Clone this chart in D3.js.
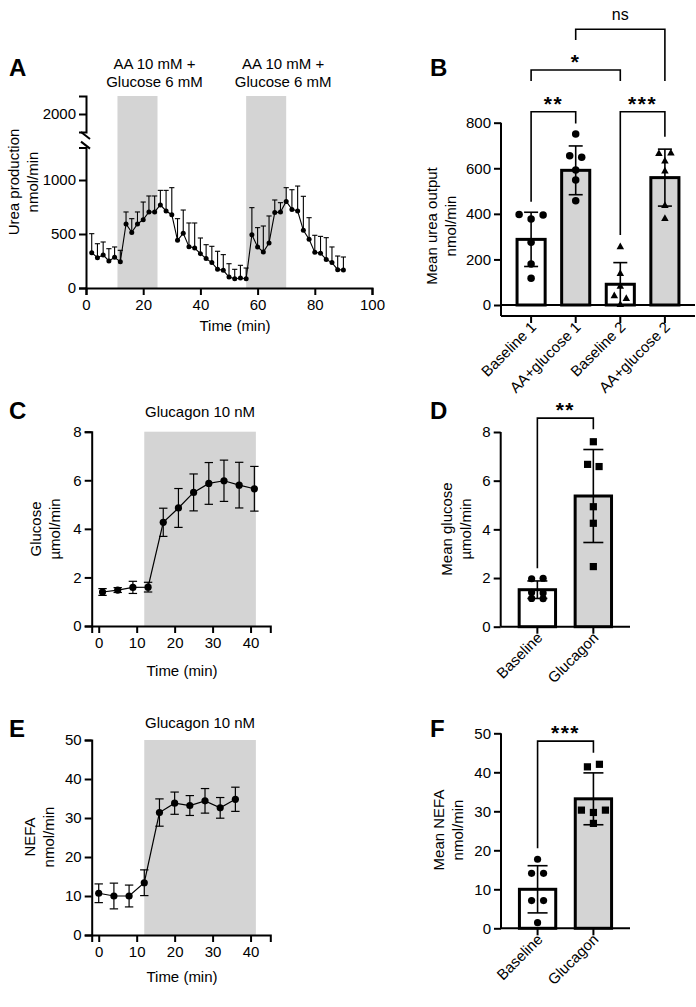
<!DOCTYPE html>
<html><head><meta charset="utf-8">
<script src="https://cdn.jsdelivr.net/npm/d3@7"></script>
<style>
body{margin:0;background:#fff}
text{font-family:"Liberation Sans",Arial,sans-serif;fill:#000}
</style>
</head><body>
<svg id="c" width="696" height="1007"></svg>
<script>
// ---------------- DATA ----------------
// Panel A: urea production time course (mean, upper SD)
const timeA = [2,4,6,8,10,12,14,16,18,20,22,24,26,28,30,32,34,36,38,40,42,44,46,48,50,52,54,56,58,60,62,64,66,68,70,72,74,76,78,80,82,84,86,88,90];
const ureaMean = [327,281,306,250,284,244,593,515,593,633,704,704,769,713,679,441,506,383,370,318,272,235,173,164,102,86,93,86,494,380,333,417,698,704,802,728,713,534,451,330,321,265,235,170,167];
const ureaUpper = [503,410,426,364,380,349,704,642,704,796,852,852,904,904,929,642,722,602,602,463,401,386,340,309,225,173,210,185,744,559,574,667,815,790,929,910,944,849,651,488,478,466,380,296,287];
const ureaWindows = [[11,25],[56,70]];
const ureaWindowLabel = ["AA 10 mM +","Glucose 6 mM"];
const ureaTicksLow = [0,500,1000];
const ureaTicksHigh = [2000];
const timeTicksA = [0,20,40,60,80,100];

// Panel B: mean urea output per period
const catsB = ["Baseline 1","AA+glucose 1","Baseline 2","AA+glucose 2"];
const meanB = [288,591,91,559];
const sdB = [119,107,95,125];
const ptsBaseline1 = [397,377,395,275,180,117];
const ptsAAglucose1 = [750,655,648,592,548,458];
const ptsBaseline2 = [256,139,83,41,29,3];
const ptsAAglucose2 = [666,668,633,589,437,380];
const shapesB = ["circle","circle","triangle","triangle"];
const ticksB = [0,200,400,600,800];
// brackets: [from, to, level, leftLegEnd, rightLegEnd, label]
const bracketsB = [
  [0,1,848,453,797,"**"],
  [2,3,848,307,738,"***"],
  [0,2,1031,983,983,"*"],
  [1,3,1210,1163,983,"ns"]
];

// Panel C: glucose time course
const timeC = [1,5,9,13,17,21,25,29,33,37,41];
const glucoseMean = [1.40,1.48,1.59,1.60,4.27,4.86,5.50,5.87,5.98,5.80,5.65];
const glucoseSD = [0.14,0.10,0.25,0.20,0.58,0.80,0.76,0.86,0.85,0.94,0.92];
const glucagonWindow = [12,41.4];
const ticksC = [0,2,4,6,8];
const timeTicksCE = [0,10,20,30,40];

// Panel D: mean glucose
const catsD = ["Baseline","Glucagon"];
const meanD = [1.52,5.37];
const sdD = [0.36,1.91];
const ptsDBaseline = [1.97,1.99,1.41,1.38,1.16,1.15];
const ptsDGlucagon = [7.60,6.67,6.58,4.93,4.25,2.47];
const bracketD = [0,1,8.57,2.40,8.11,"**"];

// Panel E: NEFA time course
const timeE = [0,4,8,12,16,20,24,28,32,36];
const nefaMean = [10.7,10.0,10.0,13.4,31.4,33.8,33.2,34.4,32.6,34.8];
const nefaSD = [2.4,3.3,2.8,3.3,3.5,2.85,2.55,3.15,2.65,3.1];
const ticksE = [0,10,20,30,40,50];

// Panel F: mean NEFA
const catsF = ["Baseline","Glucagon"];
const meanF = [10.0,33.2];
const sdF = [6.05,6.65];
const ptsFBaseline = [17.7,14.1,14.1,7.1,7.1,1.45];
const ptsFGlucagon = [41.4,42.05,30.3,29.7,30.3,26.9];
const bracketF = [0,1,48.0,20.5,45.0,"***"];

// ---------------- DRAW ----------------
const svg = d3.select("#c");
svg.append("rect").attr("width",696).attr("height",1007).attr("fill","#fff");
const GRAY = "#d4d4d4";
const FS = 15;
const fmt = d3.format("d");

function letter(t,x,y){
  svg.append("text").attr("x",x).attr("y",y).attr("font-size",24).attr("font-weight","bold").text(t);
}
function styleAxis(g){
  g.selectAll("path.domain").attr("stroke","#000").attr("stroke-width",2);
  g.selectAll(".tick line").attr("stroke","#000").attr("stroke-width",2);
  g.selectAll(".tick text").attr("font-size",FS).attr("font-family",'"Liberation Sans",Arial,sans-serif').attr("fill","#000");
}
function yTitle(lines,x,y){
  const t = svg.append("text").attr("transform",`translate(${x},${y}) rotate(-90)`).attr("text-anchor","middle").attr("font-size",FS);
  lines.forEach((l,i)=>t.append("tspan").attr("x",0).attr("dy",i===0?0:"1.25em").text(l));
}
function marker(g,shape,x,y,s){
  if(shape==="circle"){
    g.append("circle").attr("cx",x).attr("cy",y).attr("r",s/2).attr("fill","#000");
  } else if(shape==="square"){
    g.append("rect").attr("x",x-s/2).attr("y",y-s/2).attr("width",s).attr("height",s).attr("fill","#000");
  } else {
    const h = s*0.9;
    g.append("path").attr("d",`M${x},${y-h*0.6}L${x+s/2},${y+h*0.4}L${x-s/2},${y+h*0.4}Z`).attr("fill","#000");
  }
}
// lay out column scatter: points in the same horizontal row are spread symmetrically
function scatterOffsets(vals,yScale,spacing,thr){
  const idx = vals.map((v,i)=>i).sort((a,b)=>yScale(vals[a])-yScale(vals[b]));
  const rows = []; let cur = null;
  idx.forEach(i=>{
    const py = yScale(vals[i]);
    if(!cur || py-cur.start>thr){ cur={start:py,items:[]}; rows.push(cur); }
    cur.items.push(i);
  });
  const off = new Array(vals.length).fill(0);
  rows.forEach(r=>{
    r.items.sort((a,b)=>a-b);
    const n=r.items.length;
    r.items.forEach((i,k)=>off[i]=(k-(n-1)/2)*spacing);
  });
  return off;
}

// ===== Panel A =====
(function(){
  const x = d3.scaleLinear([0,100],[86,372]);
  const y = d3.scaleLinear([0,1300],[288,147.6]);
  const yHi = d3.scaleLinear([1800,2200],[132,96]);
  const g = svg.append("g");
  ureaWindows.forEach(w=>{
    g.append("rect").attr("x",x(w[0])).attr("width",x(w[1])-x(w[0]))
      .attr("y",yHi(2200)).attr("height",y(0)-yHi(2200)).attr("fill",GRAY);
    const cx = (x(w[0])+x(w[1]))/2+17;
    ureaWindowLabel.forEach((l,i)=>g.append("text").attr("x",cx).attr("y",69+i*17.5).attr("text-anchor","middle").attr("font-size",FS).text(l));
  });
  const ax = g.append("g").attr("transform","translate(0,288)")
    .call(d3.axisBottom(x).tickValues(timeTicksA).tickFormat(fmt).tickSizeOuter(0).tickSize(7).tickPadding(4));
  styleAxis(ax);
  const ay = g.append("g").attr("transform","translate(86,0)")
    .call(d3.axisLeft(y).tickValues(ureaTicksLow).tickFormat(fmt).tickSizeOuter(0).tickSize(7).tickPadding(3));
  styleAxis(ay);
  const ay2 = g.append("g").attr("transform","translate(86,0)")
    .call(d3.axisLeft(yHi).tickValues(ureaTicksHigh).tickFormat(fmt).tickSizeOuter(0).tickSize(7).tickPadding(3));
  styleAxis(ay2);
  // break marks
  [yHi(1800)+3,y(1300)-3].forEach(by=>{
    g.append("line").attr("x1",81).attr("y1",by-3).attr("x2",90).attr("y2",by+4).attr("stroke","#000").attr("stroke-width",2);
  });
  // error bars (upper)
  timeA.forEach((t,i)=>{
    g.append("line").attr("x1",x(t)).attr("x2",x(t)).attr("y1",y(ureaMean[i])).attr("y2",y(ureaUpper[i])).attr("stroke","#000").attr("stroke-width",1.1);
    g.append("line").attr("x1",x(t)-2.6).attr("x2",x(t)+2.6).attr("y1",y(ureaUpper[i])).attr("y2",y(ureaUpper[i])).attr("stroke","#000").attr("stroke-width",1.1);
  });
  g.append("path").datum(timeA.map((t,i)=>[t,ureaMean[i]]))
    .attr("d",d3.line().x(d=>x(d[0])).y(d=>y(d[1]))).attr("fill","none").attr("stroke","#000").attr("stroke-width",1.1);
  timeA.forEach((t,i)=>g.append("circle").attr("cx",x(t)).attr("cy",y(ureaMean[i])).attr("r",2.5).attr("fill","#000"));
  g.append("text").attr("x",235).attr("y",331).attr("text-anchor","middle").attr("font-size",FS).text("Time  (min)");
  yTitle(["Urea production","nmol/min"],19,182);
  letter("A",9,76);
})();

// ===== bar panels =====
function barPanel(o){
  const g = svg.append("g");
  const x = d3.scaleBand(o.cats,o.xr).paddingInner(o.pi).paddingOuter(o.po);
  const y = d3.scaleLinear(o.dom,o.yr);
  const ay = g.append("g").attr("transform",`translate(${o.xr[0]},0)`)
    .call(d3.axisLeft(y).tickValues(o.ticks).tickFormat(fmt).tickSizeOuter(0).tickSize(7).tickPadding(3));
  styleAxis(ay);
  ay.select("path.domain").remove();
  g.append("line").attr("x1",o.xr[0]).attr("x2",o.xr[0]).attr("y1",y(o.dom[1])).attr("y2",o.xAxisY).attr("stroke","#000").attr("stroke-width",2);
  if(o.xAxisY!==y(0)){
    g.append("line").attr("x1",o.xr[0]).attr("x2",o.xr[1]).attr("y1",y(0)).attr("y2",y(0)).attr("stroke","#000").attr("stroke-width",2);
  }
  const ax = g.append("g").attr("transform",`translate(0,${o.xAxisY})`)
    .call(d3.axisBottom(x).tickSizeOuter(0).tickSize(7).tickFormat(""));
  styleAxis(ax);
  ax.select("path.domain").attr("d",`M${o.xr[0]},0H${o.xr[1]}`);
  o.cats.forEach(c=>{
    g.append("text").attr("transform",`translate(${x(c)+x.bandwidth()/2+6},${o.xAxisY+12}) rotate(-45)`)
      .attr("text-anchor","end").attr("font-size",FS).text(c);
  });
  o.cats.forEach((c,i)=>{
    g.append("rect").attr("x",x(c)).attr("width",x.bandwidth()).attr("y",y(o.means[i])).attr("height",y(0)-y(o.means[i]))
      .attr("fill",i%2===0?"#fff":GRAY).attr("stroke","#000").attr("stroke-width",3);
  });
  o.cats.forEach((c,i)=>{
    const vals=o.pts[i];
    const off=scatterOffsets(vals,y,o.spacing,5.5);
    const cx=x(c)+x.bandwidth()/2;
    vals.forEach((v,k)=>marker(g,o.shapes[i],cx+off[k],y(v),o.msize));
  });
  o.cats.forEach((c,i)=>{
    const cx=x(c)+x.bandwidth()/2;
    const top=y(o.means[i]+o.sd[i]); const bot=Math.min(y(0),y(o.means[i]-o.sd[i]));
    g.append("line").attr("x1",cx).attr("x2",cx).attr("y1",top).attr("y2",bot).attr("stroke","#000").attr("stroke-width",1.6);
    g.append("line").attr("x1",cx-o.cap).attr("x2",cx+o.cap).attr("y1",top).attr("y2",top).attr("stroke","#000").attr("stroke-width",1.6);
    if(y(o.means[i]-o.sd[i])<y(0))
      g.append("line").attr("x1",cx-o.cap).attr("x2",cx+o.cap).attr("y1",bot).attr("y2",bot).attr("stroke","#000").attr("stroke-width",1.6);
  });
  o.brackets.forEach(b=>{
    const x1=x(o.cats[b[0]])+x.bandwidth()/2, x2=x(o.cats[b[1]])+x.bandwidth()/2;
    g.append("path").attr("d",`M${x1},${y(b[3])}V${y(b[2])}H${x2}V${y(b[4])}`).attr("fill","none").attr("stroke","#000").attr("stroke-width",1.6);
    const isNs = b[5]==="ns";
    g.append("text").attr("x",(x1+x2)/2).attr("y",isNs?y(b[2])-9:y(b[2])-1)
      .attr("text-anchor","middle").attr("font-size",isNs?16:21).attr("font-weight",isNs?"normal":"bold")
      .attr("letter-spacing",isNs?0:1.5).text(b[5]);
  });
  yTitle(o.title,o.titleX,o.titleY);
  letter(o.letter,o.lx,o.ly);
}

barPanel({cats:catsB,xr:[501,695],pi:0.37,po:0.36,dom:[0,800],yr:[305,122.7],ticks:ticksB,xAxisY:316,
  means:meanB,sd:sdB,pts:[ptsBaseline1,ptsAAglucose1,ptsBaseline2,ptsAAglucose2],shapes:shapesB,msize:7.5,spacing:12,cap:7,
  brackets:bracketsB,title:["Mean urea output","nmol/min"],titleX:437,titleY:226,letter:"B",lx:430,ly:76});
barPanel({cats:catsD,xr:[500.7,630],pi:0.35,po:0.33,dom:[0,8],yr:[626.7,432],ticks:ticksC,xAxisY:626.7,
  means:meanD,sd:sdD,pts:[ptsDBaseline,ptsDGlucagon],shapes:["circle","square"],msize:7.2,spacing:11.5,cap:10,
  brackets:[bracketD],title:["Mean glucose","µmol/min"],titleX:452,titleY:529,letter:"D",lx:430,ly:419});
barPanel({cats:catsF,xr:[501,630],pi:0.35,po:0.33,dom:[0,50],yr:[928.3,733.3],ticks:ticksE,xAxisY:928.3,
  means:meanF,sd:sdF,pts:[ptsFBaseline,ptsFGlucagon],shapes:["circle","square"],msize:7.2,spacing:12,cap:10,
  brackets:[bracketF],title:["Mean NEFA","nmol/min"],titleX:444,titleY:830,letter:"F",lx:430,ly:737});

// ===== line panels C & E =====
function linePanel(o){
  const g = svg.append("g");
  const x = d3.scaleLinear([-1.85,45.2],[91.7,270.3]);
  const y = d3.scaleLinear(o.dom,o.yr);
  g.append("rect").attr("x",x(glucagonWindow[0])).attr("width",x(glucagonWindow[1])-x(glucagonWindow[0]))
    .attr("y",y(o.dom[1])).attr("height",y(0)-y(o.dom[1])).attr("fill",GRAY);
  g.append("text").attr("x",(x(glucagonWindow[0])+x(glucagonWindow[1]))/2).attr("y",o.annY).attr("text-anchor","middle").attr("font-size",FS).text("Glucagon 10 nM");
  const ax = g.append("g").attr("transform",`translate(0,${y(0)})`)
    .call(d3.axisBottom(x).tickValues(timeTicksCE).tickFormat(fmt).tickSizeOuter(0).tickSize(7).tickPadding(4));
  styleAxis(ax);
  const ay = g.append("g").attr("transform",`translate(91.7,0)`)
    .call(d3.axisLeft(y).tickValues(o.ticks).tickFormat(fmt).tickSizeOuter(0).tickSize(7).tickPadding(3));
  styleAxis(ay);
  o.t.forEach((t,i)=>{
    const top=y(o.m[i]+o.sd[i]), bot=y(o.m[i]-o.sd[i]);
    g.append("line").attr("x1",x(t)).attr("x2",x(t)).attr("y1",top).attr("y2",bot).attr("stroke","#000").attr("stroke-width",1.2);
    [top,bot].forEach(yy=>g.append("line").attr("x1",x(t)-4.2).attr("x2",x(t)+4.2).attr("y1",yy).attr("y2",yy).attr("stroke","#000").attr("stroke-width",1.2));
  });
  g.append("path").datum(o.t.map((t,i)=>[t,o.m[i]]))
    .attr("d",d3.line().x(d=>x(d[0])).y(d=>y(d[1]))).attr("fill","none").attr("stroke","#000").attr("stroke-width",1.2);
  o.t.forEach((t,i)=>g.append("circle").attr("cx",x(t)).attr("cy",y(o.m[i])).attr("r",3.6).attr("fill","#000"));
  g.append("text").attr("x",182).attr("y",o.xlabY).attr("text-anchor","middle").attr("font-size",FS).text("Time (min)");
  yTitle(o.title,o.titleX,o.titleY);
  letter(o.letter,o.lx,o.ly);
}
linePanel({t:timeC,m:glucoseMean,sd:glucoseSD,dom:[0,8],yr:[626,431.7],ticks:ticksC,annY:417,xlabY:676,
  title:["Glucose","µmol/min"],titleX:41,titleY:529,letter:"C",lx:9,ly:419});
linePanel({t:timeE,m:nefaMean,sd:nefaSD,dom:[0,50],yr:[935,740],ticks:ticksE,annY:728,xlabY:982,
  title:["NEFA","nmol/min"],titleX:35,titleY:837,letter:"E",lx:9,ly:737});
</script>
</body></html>
